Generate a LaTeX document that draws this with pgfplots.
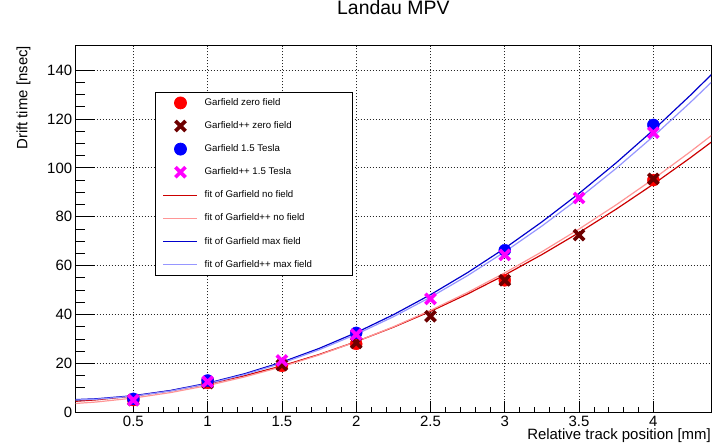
\documentclass[border=0pt]{standalone}
\usepackage{fontspec}
\setmainfont{Liberation Sans}
\usepackage{pgfplots}
\pgfplotsset{compat=1.18}
\definecolor{fitred}{RGB}{204,0,0}
\definecolor{fitpink}{RGB}{255,150,150}
\definecolor{fitblue}{RGB}{0,0,204}
\definecolor{fitlblue}{RGB}{150,150,255}
\definecolor{xdarkred}{RGB}{110,0,0}
\definecolor{xmagenta}{RGB}{255,0,255}
\begin{document}
\begin{tikzpicture}
\begin{axis}[
  scale only axis, width=635.3bp, height=366.6bp,
  xmin=0.112, xmax=4.388, ymin=0, ymax=150,
  xtick={0.5,1,...,4}, minor x tick num=4,
  ytick={0,20,...,140}, minor y tick num=3,
  xticklabels={0.5,1,1.5,2,2.5,3,3.5,4},
  tick align=inside, xtick pos=bottom, ytick pos=left,
  grid=major,
  major grid style={black!85, line width=0.8bp, dash pattern=on 0.9bp off 2.1bp},
  axis line style={line width=0.8bp},
  tick style={black, line width=0.8bp},
  xtick style={/pgfplots/major tick length=11bp, /pgfplots/minor tick length=5.5bp},
  ytick style={/pgfplots/major tick length=19bp, /pgfplots/minor tick length=9.5bp},
  ticklabel style={font=\fontsize{15}{18}\selectfont},
  /pgf/number format/assume math mode=true,
  xlabel={Relative track position [mm]},
  xlabel style={at={(axis description cs:1,0)}, anchor=base east, yshift=-27bp, inner sep=0pt, font=\fontsize{15}{18}\selectfont},
  ylabel={Drift time [nsec]},
  ylabel style={at={(axis description cs:-0.0762,1)}, anchor=base east, inner sep=0pt, font=\fontsize{15}{18}\selectfont},
  title={Landau MPV},
  title style={at={(axis description cs:0.5,1)}, anchor=base, yshift=25bp, inner sep=0pt, font=\fontsize{19.5}{22}\selectfont},
  legend cell align=left,
  legend image code/.code={
    \path[draw=none,fill=none] (0bp,-6.5bp) rectangle (34bp,6.5bp);
    \draw[mark repeat=2,mark phase=2] plot coordinates {(0bp,0bp) (17bp,0bp) (34bp,0bp)};
  },
  legend style={at={(axis description cs:0.1248,0.8745)}, anchor=north west,
    draw=black, line width=0.8bp, fill=white,
    font=\fontsize{9.7}{11}\selectfont,
    inner xsep=7.5bp, inner ysep=4.3bp,
    row sep=10.1bp, column sep=6.6bp,
    nodes={inner sep=0pt, text height=7bp, text depth=2bp}},
]
\addplot[only marks, mark=*, mark size=6bp, color=red, fill=red] coordinates {
  (0.5,5.0) (1,12.0) (1.5,19.0) (2,28.0) (3,54.0) (4,95.0)};
\addlegendentry{\makebox[140bp][l]{Garfield zero field}}
\addplot[only marks, mark=x, mark size=7.2bp, color=xdarkred, line width=3.6bp, mark options={line cap=butt}] coordinates {
  (0.5,5.0) (1,12.0) (1.5,19.3) (2,28.4) (2.5,39.3) (3,54.0) (3.5,72.5) (4,95.5)};
\addlegendentry{Garfield++ zero field}
\addplot[only marks, mark=*, mark size=6bp, color=blue, fill=blue] coordinates {
  (0.5,5.5) (1,13.0) (2,32.5) (3,66.3) (4,117.6)};
\addlegendentry{Garfield 1.5 Tesla}
\addplot[only marks, mark=x, mark size=7.2bp, color=xmagenta, line width=3.6bp, mark options={line cap=butt}] coordinates {
  (0.5,5.0) (1,12.5) (1.5,21.2) (2,31.8) (2.5,46.4) (3,64.4) (3.5,87.7) (4,114.4)};
\addlegendentry{Garfield++ 1.5 Tesla}
\addplot[fitred, line width=1.2bp, no marks] coordinates {
  (0.1,4.46)(0.25,5.09)(0.5,6.63)(0.75,8.79)(1,11.58)(1.25,14.98)(1.5,19.01)(1.75,23.65)(2,28.92)(2.25,34.80)(2.5,41.30)(2.75,48.43)(3,56.17)(3.25,64.54)(3.5,73.52)(3.75,83.12)(4,93.34)(4.25,104.19)(4.4,111.0)};
\addlegendentry{fit of Garfield no field}
\addplot[fitpink, line width=1.2bp, no marks] coordinates {
  (0.1,3.56)(0.25,4.21)(0.5,5.82)(0.75,8.07)(1,10.95)(1.25,14.48)(1.5,18.64)(1.75,23.45)(2,28.89)(2.25,34.97)(2.5,41.70)(2.75,49.06)(3,57.06)(3.25,65.70)(3.5,74.98)(3.75,84.90)(4,95.46)(4.25,106.66)(4.4,113.69)};
\addlegendentry{fit of Garfield++ no field}
\addplot[fitblue, line width=1.2bp, no marks] coordinates {
  (0.1,5.19)(0.25,5.53)(0.5,6.80)(0.75,8.93)(1,11.93)(1.25,15.80)(1.5,20.53)(1.75,26.12)(2,32.60)(2.25,39.92)(2.5,48.12)(2.75,57.18)(3,67.11)(3.25,77.91)(3.5,89.57)(3.75,102.09)(4,115.49)(4.25,129.76)(4.4,138.72)};
\addlegendentry{fit of Garfield max field}
\addplot[fitlblue, line width=1.2bp, no marks] coordinates {
  (0.1,4.99)(0.25,5.34)(0.5,6.60)(0.75,8.71)(1,11.66)(1.25,15.46)(1.5,20.10)(1.75,25.58)(2,31.91)(2.25,39.08)(2.5,47.10)(2.75,55.95)(3,65.66)(3.25,76.21)(3.5,87.60)(3.75,99.83)(4,112.91)(4.25,126.84)(4.4,135.60)};
\addlegendentry{fit of Garfield++ max field}
\end{axis}
\path ([shift={(-75.7bp,-35.7bp)}]current axis.south west) rectangle ([shift={(2bp,45.7bp)}]current axis.north east);
\end{tikzpicture}
\end{document}
